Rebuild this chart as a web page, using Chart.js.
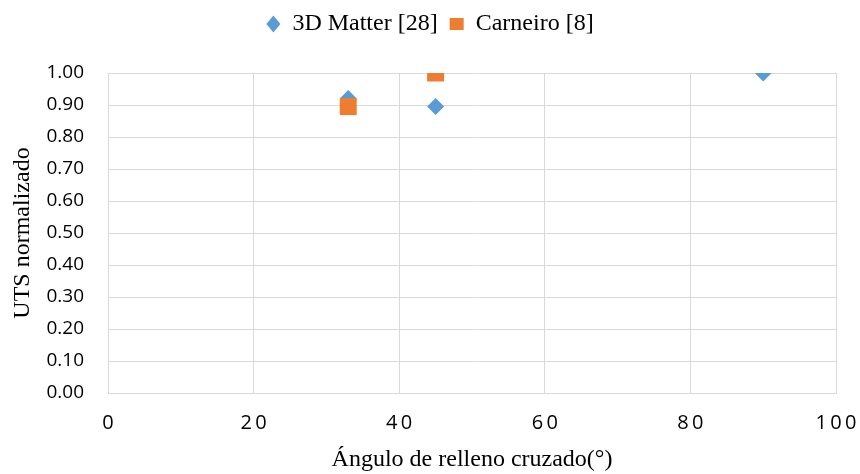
<!DOCTYPE html>
<html>
<head>
<meta charset="utf-8">
<script src="https://cdn.jsdelivr.net/npm/chart.js@4"></script>
<style>
  html, body { margin: 0; padding: 0; background: #fff; }
  #wrap { width: 860px; height: 474px; }
</style>
</head>
<body>
<div id="wrap"><canvas id="chart" width="860" height="474"></canvas></div>
<script>
// Data
const matterAngles = [33, 45, 90];
const matterUts = [0.92, 0.895, 1.0];
const carneiroAngles = [33, 45];
const carneiroUts = [0.895, 1.0];

const xTicks = [0, 20, 40, 60, 80, 100];
const yTicks = [0, 0.1, 0.2, 0.3, 0.4, 0.5, 0.6, 0.7, 0.8, 0.9, 1.0];

const SERIF = "'Liberation Serif', 'Times New Roman', serif";
const SANS = "'Open Sans', 'Liberation Sans', sans-serif";
const GRID = "#d9d9d9";

function toPoints(xs, ys) {
  return xs.map((x, i) => ({ x: x, y: ys[i] }));
}

// push the plot area down a bit below the legend
const legendGap = {
  id: "legendGap",
  beforeInit(chart) {
    const lg = chart.legend;
    if (!lg) return;
    const fit = lg.fit;
    lg.fit = function () {
      fit.call(this);
      this.height += 27;
    };
  }
};

new Chart(document.getElementById("chart"), {
  type: "scatter",
  data: {
    datasets: [
      {
        label: "3D Matter [28]",
        data: toPoints(matterAngles, matterUts),
        pointStyle: "rectRot",
        pointRadius: 8.5,
        pointHoverRadius: 8.5,
        backgroundColor: "#5b9bd5",
        borderColor: "#5b9bd5",
        borderWidth: 0,
        order: 1
      },
      {
        label: "Carneiro [8]",
        data: toPoints(carneiroAngles, carneiroUts),
        pointStyle: "rect",
        pointRadius: 12,
        pointHoverRadius: 12,
        backgroundColor: "#ed7d31",
        borderColor: "#ed7d31",
        borderWidth: 0,
        order: 0
      }
    ]
  },
  plugins: [legendGap],
  options: {
    responsive: false,
    animation: false,
    layout: { padding: { left: 0, right: 0, top: 0, bottom: 0 } },
    plugins: {
      tooltip: { enabled: false },
      legend: {
        display: true,
        position: "top",
        labels: {
          usePointStyle: true,
          pointStyleWidth: 14,
          boxHeight: 12,
          padding: 12,
          color: "#000",
          font: { family: SERIF, size: 24 },
          sort: (a, b) => a.datasetIndex - b.datasetIndex
        }
      }
    },
    scales: {
      x: {
        type: "linear",
        min: 0,
        max: 100,
        afterBuildTicks: (s) => { s.ticks = xTicks.map(v => ({ value: v })); },
        afterFit: (s) => {
          s.height = 81;
          s.paddingLeft = 0;
          s.paddingRight = 24;
        },
        grid: { color: GRID, lineWidth: 1, drawTicks: false },
        border: { color: GRID },
        ticks: {
          color: "#000",
          padding: 18,
          maxRotation: 0,
          font: { family: SANS, size: 20 },
          callback: (v) => String(v).split("").join("\u2009")
        },
        title: {
          display: true,
          text: "Ángulo de relleno cruzado(°)",
          color: "#000",
          font: { family: SERIF, size: 24 },
          padding: { top: 0, bottom: 0 }
        }
      },
      y: {
        type: "linear",
        min: 0,
        max: 1,
        afterBuildTicks: (s) => { s.ticks = yTicks.map(v => ({ value: v })); },
        afterFit: (s) => { s.width = 108; },
        grid: { color: GRID, lineWidth: 1, drawTicks: false },
        border: { color: GRID },
        ticks: {
          color: "#000",
          padding: 24,
          font: { family: SANS, size: 19 },
          callback: (v) => Number(v).toFixed(2)
        },
        title: {
          display: true,
          text: "UTS normalizado",
          color: "#000",
          font: { family: SERIF, size: 24 },
          padding: { top: 8, bottom: 0 }
        }
      }
    }
  }
});
</script>
</body>
</html>
